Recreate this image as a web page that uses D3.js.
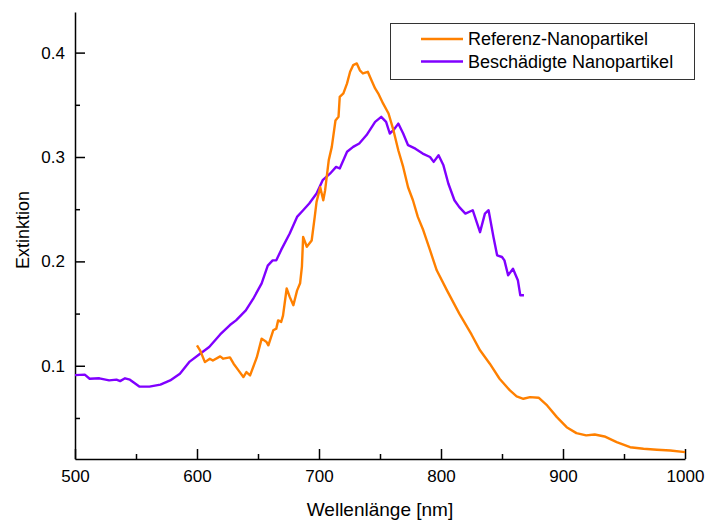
<!DOCTYPE html>
<html>
<head>
<meta charset="utf-8">
<script src="https://cdn.jsdelivr.net/npm/d3@7"></script>
<style>
  body { margin: 0; background: #fff; }
  svg text { font-family: "Liberation Sans", Arial, sans-serif; fill: #000; }
</style>
</head>
<body>
<div id="chart"></div>
<script>
// Referenz-Nanopartikel (orange)
const refWl = [600,602.5,606.5,610.5,613,619,621.5,627,630,634,638,640.5,643.5,649,653,657,658.5,662.5,665,666.5,
  669,670.5,673.5,676,679,682,684.5,686,687,690,694,696.5,698,701,703.5,705,708,710.5,713.5,716,
  717,720,723,725.5,728,731,733.5,736,740,743,746,748.5,752.5,757,761,765,769,773,777,781,
  785.5,791,796.5,805,815,825,832,840,848,856.5,862,867.5,873,880,887,895,903,911,919,926,
  934,944,955,966,977,988,1000];
const refExt = [0.1195,0.1148,0.1035,0.1068,0.105,0.109,0.1068,0.108,0.102,0.0956,0.0892,0.094,0.0908,0.108,0.126,0.1227,0.1196,0.134,0.1356,0.1435,
  0.142,0.148,0.174,0.166,0.158,0.172,0.179,0.195,0.2235,0.214,0.220,0.2426,0.257,0.271,0.2586,0.268,0.297,0.3097,0.335,0.3385,
  0.3576,0.361,0.3705,0.3816,0.388,0.3896,0.383,0.380,0.3816,0.3736,0.3657,0.361,0.3513,0.3417,0.3257,0.3065,0.2905,0.271,0.2586,0.2426,
  0.2298,0.2107,0.1915,0.172,0.150,0.130,0.1148,0.102,0.0876,0.0764,0.0707,0.0684,0.070,0.0694,0.062,0.0508,0.0412,0.0355,0.0333,0.0342,
  0.0323,0.0268,0.022,0.0205,0.0196,0.0189,0.0173];

// Beschädigte Nanopartikel (violet)
const dmgWl = [500,508,512,520,528,534,537,541,545,553,561,570,578,586,594,602,610,619,627,632,
  640,646,653,658,662,665,669,676,682,687,692,698,703,709,714,717,723,728,733,739,
  746,751,755,758,761,765,769,773,779,785,791,794,798,802,806,811,815,820,826,832,
  836,839,843,846,850,852,855,859,863,865,868];
const dmgExt = [0.091,0.0915,0.0876,0.088,0.086,0.0867,0.0853,0.088,0.0867,0.080,0.080,0.082,0.086,0.0924,0.104,0.111,0.118,0.130,0.139,0.1435,
  0.153,0.164,0.179,0.196,0.201,0.201,0.211,0.2267,0.2426,0.249,0.2554,0.265,0.2778,0.284,0.2905,0.289,0.305,0.3097,0.313,0.321,
  0.3337,0.3385,0.3337,0.3225,0.3257,0.332,0.3225,0.3113,0.308,0.3033,0.300,0.2953,0.3017,0.292,0.2746,0.2586,0.252,0.2458,0.249,0.228,
  0.2458,0.249,0.2234,0.2058,0.2042,0.201,0.1867,0.193,0.182,0.1675,0.1675];

const xMajor = [500, 600, 700, 800, 900, 1000];
const xMinor = [550, 650, 750, 850, 950];
const yMajor = [0.1, 0.2, 0.3, 0.4];
const yMinor = [0.05, 0.15, 0.25, 0.35];

const seriesNames = ['Referenz-Nanopartikel', 'Beschädigte Nanopartikel'];
const seriesColors = ['#ff8000', '#8000ff'];

const width = 707, height = 521;
const margin = {top: 12, right: 22, bottom: 62, left: 75};

const svg = d3.select('#chart').append('svg')
  .attr('width', width)
  .attr('height', height);

const x = d3.scaleLinear().domain([500, 1000]).range([margin.left, width - margin.right]);
const y = d3.scaleLinear().domain([0.0107, 0.4389]).range([height - margin.bottom, margin.top]);

// minor ticks
svg.append('g')
  .attr('transform', 'translate(0,' + (height - margin.bottom) + ')')
  .call(d3.axisBottom(x).tickValues(xMinor).tickSize(-5).tickSizeOuter(0).tickFormat(''))
  .call(g => g.select('.domain').remove())
  .selectAll('line').attr('stroke-width', 1.5);

svg.append('g')
  .attr('transform', 'translate(' + margin.left + ',0)')
  .call(d3.axisLeft(y).tickValues(yMinor).tickSize(-5).tickSizeOuter(0).tickFormat(''))
  .call(g => g.select('.domain').remove())
  .selectAll('line').attr('stroke-width', 1.5);

// major axes
const xAxis = svg.append('g')
  .attr('transform', 'translate(0,' + (height - margin.bottom) + ')')
  .call(d3.axisBottom(x).tickValues(xMajor).tickSize(-10).tickSizeOuter(0).tickPadding(11).tickFormat(d3.format('d')));
xAxis.selectAll('text').attr('font-size', 17);

const yAxis = svg.append('g')
  .attr('transform', 'translate(' + margin.left + ',0)')
  .call(d3.axisLeft(y).tickValues(yMajor).tickSize(-10).tickSizeOuter(0).tickPadding(10).tickFormat(d3.format('.1f')));
yAxis.selectAll('text').attr('font-size', 17);

svg.selectAll('.domain, .tick line').attr('stroke', '#000');
svg.selectAll('.domain').attr('stroke-width', 1.5);
svg.selectAll('.tick line').attr('stroke-width', 1.5);
svg.selectAll('.tick text').attr('font-family', '"Liberation Sans", Arial, sans-serif');

// axis titles
svg.append('text')
  .attr('x', (margin.left + width - margin.right) / 2)
  .attr('y', 516)
  .attr('text-anchor', 'middle')
  .attr('font-size', 19)
  .text('Wellenlänge [nm]');

svg.append('text')
  .attr('transform', 'translate(29,' + 230 + ') rotate(-90)')
  .attr('text-anchor', 'middle')
  .attr('font-size', 18)
  .text('Extinktion');

// lines
const line = d3.line().x(d => x(d[0])).y(d => y(d[1]));
const dmgData = d3.zip(dmgWl, dmgExt);
const refData = d3.zip(refWl, refExt);

svg.append('path')
  .datum(dmgData)
  .attr('fill', 'none')
  .attr('stroke', seriesColors[1])
  .attr('stroke-width', 2.4)
  .attr('stroke-linejoin', 'round')
  .attr('d', line);

svg.append('path')
  .datum(refData)
  .attr('fill', 'none')
  .attr('stroke', seriesColors[0])
  .attr('stroke-width', 2.4)
  .attr('stroke-linejoin', 'round')
  .attr('d', line);

// legend
const legend = svg.append('g').attr('transform', 'translate(390,23)');
legend.append('rect')
  .attr('x', 0.5).attr('y', 0.5)
  .attr('width', 304).attr('height', 56)
  .attr('fill', '#fff')
  .attr('stroke', '#333')
  .attr('stroke-width', 1);

seriesNames.forEach((name, i) => {
  const ly = 16 + i * 22.5;
  legend.append('line')
    .attr('x1', 31).attr('x2', 73)
    .attr('y1', ly).attr('y2', ly)
    .attr('stroke', seriesColors[i])
    .attr('stroke-width', 2.4);
  legend.append('text')
    .attr('x', 78)
    .attr('y', ly)
    .attr('dy', '0.35em')
    .attr('font-size', 18)
    .text(name);
});
</script>
</body>
</html>
